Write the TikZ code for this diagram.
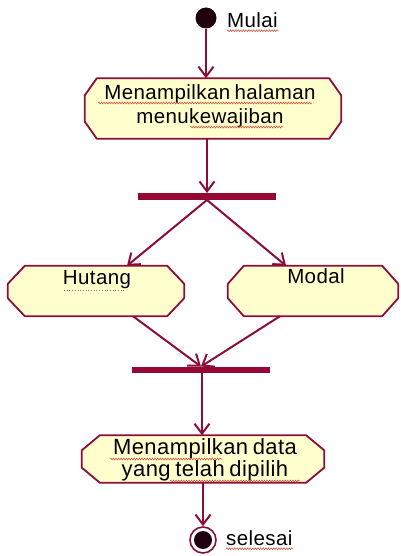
\documentclass[tikz,border=0pt]{standalone}
\usepackage{fontspec}
\setmainfont{Liberation Sans}[LetterSpace=2,WordSpace=0.7]
\usetikzlibrary{arrows.meta,calc,decorations.pathmorphing}

\definecolor{lineRed}{RGB}{140,12,58}
\definecolor{barRed}{RGB}{150,8,52}
\definecolor{actFill}{RGB}{255,255,206}
\definecolor{dotFill}{RGB}{32,2,14}
\definecolor{wavyRed}{RGB}{205,90,70}

% chamfered outline of an activity state around an (empty) node
% #1 node name, #2 horizontal cut, #3 vertical cut
\newcommand\actframe[3]{%
  \draw[frame] ([xshift=#2]#1.north west) -- ([xshift=-#2]#1.north east)
    -- ([yshift=-#3]#1.north east) -- ([yshift=#3]#1.south east)
    -- ([xshift=-#2]#1.south east) -- ([xshift=#2]#1.south west)
    -- ([yshift=#3]#1.south west) -- ([yshift=-#3]#1.north west) -- cycle;}

\begin{document}
\begin{tikzpicture}[x=1pt,y=-1pt,
  flow/.style={draw=lineRed, line width=2pt,
    -{Straight Barb[length=10pt,width=15pt,line width=2pt]}},
  frame/.style={draw=lineRed, line width=1.8pt, fill=actFill, line join=round},
  actbox/.style={draw=none, inner sep=0pt},
  bar/.style={fill=barRed, draw=none, minimum width=138pt, minimum height=6.5pt, inner sep=0pt},
  lbl/.style={font=\fontsize{20.5}{24}\selectfont, inner sep=0pt, align=center, text=black},
  lblbig/.style={font=\fontsize{22}{22.5}\selectfont, inner sep=0pt, align=center, text=black},
  squig/.style={draw=wavyRed, line width=0.6pt, decorate,
    decoration={snake, amplitude=0.9pt, segment length=2.6pt}},
  dots/.style={draw=gray, line width=0.7pt, dotted}
]
\useasboundingbox (0,0) rectangle (400,556);

% initial and final states
\node[circle, fill=dotFill, minimum size=21pt, inner sep=0pt] (start) at (206,18) {};
\node[lbl, anchor=west] (mulai) at (227,20) {Mulai};

\node[circle, draw=lineRed, line width=1.6pt, minimum size=26pt, inner sep=0pt] (end) at (203,540) {};
\fill[dotFill] (end.center) circle (9);
\node[lbl, anchor=west] (selesai) at (226,538) {selesai};

% activity states
\node[actbox, minimum width=256pt, minimum height=60pt] (b1) at (213,108.5) {};
\actframe{b1}{12pt}{17pt}
\node[lbl] (b1t) at (210,106) {Menampilkan halaman\\menukewajiban};

\node[actbox, minimum width=176pt, minimum height=50pt] (hut) at (96,291) {};
\actframe{hut}{17pt}{18pt}
\node[lbl] (hutt) at (97,280) {Hutang};

\node[actbox, minimum width=170pt, minimum height=50pt] (mod) at (313,291) {};
\actframe{mod}{16pt}{18pt}
\node[lbl] (modt) at (316,276) {Modal};

\node[actbox, minimum width=242pt, minimum height=47pt] (b3) at (203,459) {};
\actframe{b3}{18pt}{15pt}
\node[lblbig] (b3t) at (205,460) {Menampilkan data\\yang telah dipilih};

% fork and join bars
\node[bar] (fork) at (207,196.5) {};
\node[bar] (join) at (201,370) {};

% transitions
\draw[flow] (start.south) -- (start.south |- b1.north);
\draw[flow] (fork |- b1.south) -- (fork.north);
\draw[flow] (fork.south) -- ([xshift=31pt]hut.north);
\draw[flow] (fork.south) -- ([xshift=-27pt]mod.north);
\draw[flow] ([xshift=37pt]hut.south) -- (join.north);
\draw[flow] ([xshift=-33pt]mod.south) -- (join.north);
\draw[flow] ([xshift=1pt]join.south) -- ([xshift=1pt]join.south |- b3.north);
\draw[flow] (b3.south) -- (end.north);

% spelling marks under the words
\draw[squig] ([yshift=-3pt]mulai.south west) -- ([yshift=-3pt]mulai.south east);
\draw[squig] ([yshift=-3pt]selesai.south west) -- ([yshift=-3pt]selesai.south east);
\draw[squig] (98,103) -- (312,103);
\draw[squig] (190,127) -- (283,127);
\draw[dots] (64,290) -- (124,290);
\draw[squig] (110,459) -- (222,459);
\draw[squig] (170,481) -- (300,481);
\end{tikzpicture}
\end{document}
